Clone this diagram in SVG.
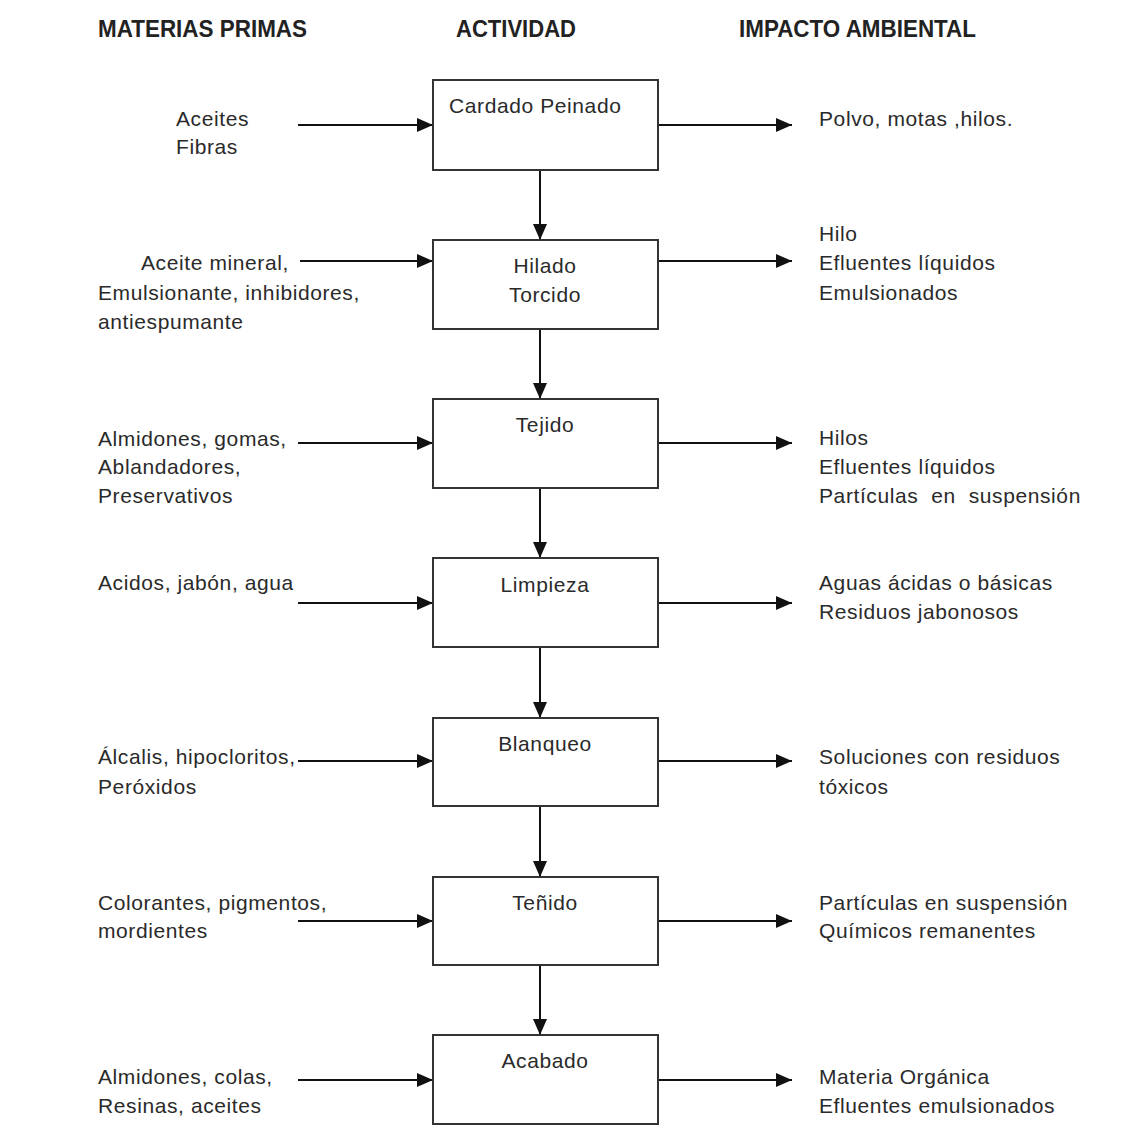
<svg xmlns="http://www.w3.org/2000/svg" width="1130" height="1141" viewBox="0 0 1130 1141">
<style>
.h{font-family:"Liberation Sans",Arial,sans-serif;font-weight:bold;font-size:24px;fill:#222}
.t{font-family:"Liberation Sans",Arial,sans-serif;font-size:21px;letter-spacing:0.6px;fill:#2a2a2a}
.c{text-anchor:middle}
.box{fill:#fff;stroke:#333;stroke-width:2}
.ln{stroke:#111;stroke-width:2;fill:none;marker-end:url(#ah)}
</style>
<defs>
<marker id="ah" viewBox="0 0 16 14" refX="16" refY="7" markerWidth="16" markerHeight="14" markerUnits="userSpaceOnUse" orient="auto">
<path d="M0,0 L16,7 L0,14 Z" fill="#111"/>
</marker>
</defs>
<rect width="1130" height="1141" fill="#fff"/>
<g id="headers">
<text class="h" x="98" y="37" textLength="209" lengthAdjust="spacingAndGlyphs">MATERIAS PRIMAS</text>
<text class="h" x="456" y="37" textLength="120" lengthAdjust="spacingAndGlyphs">ACTIVIDAD</text>
<text class="h" x="739" y="37" textLength="237" lengthAdjust="spacingAndGlyphs">IMPACTO AMBIENTAL</text>
</g>
<g id="connectors">
<line class="ln" x1="298" y1="125" x2="433" y2="125"/>
<line class="ln" x1="658" y1="125" x2="792" y2="125"/>
<line class="ln" x1="540" y1="170" x2="540" y2="240"/>
<line class="ln" x1="300" y1="261" x2="433" y2="261"/>
<line class="ln" x1="658" y1="261" x2="792" y2="261"/>
<line class="ln" x1="540" y1="329" x2="540" y2="399"/>
<line class="ln" x1="298" y1="443" x2="433" y2="443"/>
<line class="ln" x1="658" y1="443" x2="792" y2="443"/>
<line class="ln" x1="540" y1="488" x2="540" y2="558"/>
<line class="ln" x1="298" y1="603" x2="433" y2="603"/>
<line class="ln" x1="658" y1="603" x2="792" y2="603"/>
<line class="ln" x1="540" y1="647" x2="540" y2="718"/>
<line class="ln" x1="298" y1="761" x2="433" y2="761"/>
<line class="ln" x1="658" y1="761" x2="792" y2="761"/>
<line class="ln" x1="540" y1="806" x2="540" y2="877"/>
<line class="ln" x1="298" y1="921" x2="433" y2="921"/>
<line class="ln" x1="658" y1="921" x2="792" y2="921"/>
<line class="ln" x1="540" y1="965" x2="540" y2="1035"/>
<line class="ln" x1="298" y1="1080" x2="433" y2="1080"/>
<line class="ln" x1="658" y1="1080" x2="792" y2="1080"/>
</g>
<g id="n1"><rect class="box" x="433" y="80" width="225" height="90"/><text class="t" x="449" y="113">Cardado Peinado</text></g>
<g id="n2"><rect class="box" x="433" y="240" width="225" height="89"/><text class="t c" x="545" y="273">Hilado</text><text class="t c" x="545" y="302">Torcido</text></g>
<g id="n3"><rect class="box" x="433" y="399" width="225" height="89"/><text class="t c" x="545" y="432">Tejido</text></g>
<g id="n4"><rect class="box" x="433" y="558" width="225" height="89"/><text class="t c" x="545" y="592">Limpieza</text></g>
<g id="n5"><rect class="box" x="433" y="718" width="225" height="88"/><text class="t c" x="545" y="751">Blanqueo</text></g>
<g id="n6"><rect class="box" x="433" y="877" width="225" height="88"/><text class="t c" x="545" y="910">Teñido</text></g>
<g id="n7"><rect class="box" x="433" y="1035" width="225" height="89"/><text class="t c" x="545" y="1068">Acabado</text></g>
<g id="inputs">
<text class="t" x="176" y="126">Aceites</text>
<text class="t" x="176" y="154">Fibras</text>
<text class="t" x="141" y="270">Aceite mineral,</text>
<text class="t" x="98" y="300">Emulsionante, inhibidores,</text>
<text class="t" x="98" y="329">antiespumante</text>
<text class="t" x="98" y="446">Almidones, gomas,</text>
<text class="t" x="98" y="474">Ablandadores,</text>
<text class="t" x="98" y="503">Preservativos</text>
<text class="t" x="98" y="590">Acidos, jabón, agua</text>
<text class="t" x="98" y="764">Álcalis, hipocloritos,</text>
<text class="t" x="98" y="794">Peróxidos</text>
<text class="t" x="98" y="910">Colorantes, pigmentos,</text>
<text class="t" x="98" y="938">mordientes</text>
<text class="t" x="98" y="1084">Almidones, colas,</text>
<text class="t" x="98" y="1113">Resinas, aceites</text>
</g>
<g id="outputs">
<text class="t" x="819" y="126">Polvo, motas ,hilos.</text>
<text class="t" x="819" y="241">Hilo</text>
<text class="t" x="819" y="270">Efluentes líquidos</text>
<text class="t" x="819" y="300">Emulsionados</text>
<text class="t" x="819" y="445">Hilos</text>
<text class="t" x="819" y="474">Efluentes líquidos</text>
<text class="t" x="819" y="503" xml:space="preserve">Partículas  en  suspensión</text>
<text class="t" x="819" y="590">Aguas ácidas o básicas</text>
<text class="t" x="819" y="619">Residuos jabonosos</text>
<text class="t" x="819" y="764">Soluciones con residuos</text>
<text class="t" x="819" y="794">tóxicos</text>
<text class="t" x="819" y="910">Partículas en suspensión</text>
<text class="t" x="819" y="938">Químicos remanentes</text>
<text class="t" x="819" y="1084">Materia Orgánica</text>
<text class="t" x="819" y="1113">Efluentes emulsionados</text>
</g>
</svg>
